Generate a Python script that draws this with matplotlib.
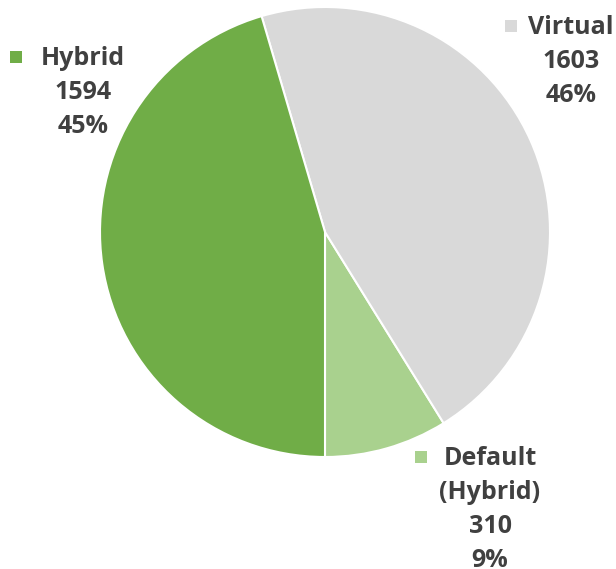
import matplotlib.pyplot as plt

labels = ["Default\n(Hybrid)", "Virtual", "Hybrid"]
values = [310, 1603, 1594]
colors = ["#A9D18E", "#D9D9D9", "#70AD47"]

# label anchor spots (pixel coords, top-left origin) for marker and text centre
marker_pos = [(421, 457), (511, 26), (16, 57)]
text_pos = [(490, 446), (571, 15), (83, 46)]

W, H = 616, 569
fig = plt.figure(figsize=(W / 100, H / 100), dpi=100)
ax = fig.add_axes([0, 0, 1, 1])

ax.pie(values, colors=colors, startangle=270, counterclock=True,
       center=(325, H - 232), radius=225,
       wedgeprops=dict(edgecolor="white", linewidth=1.5))

ax.set_xlim(0, W)
ax.set_ylim(0, H)
ax.set_aspect("equal")
ax.axis("off")

total = sum(values)
for lab, v, c, (mx, my), (tx, ty) in zip(labels, values, colors, marker_pos, text_pos):
    ax.scatter([mx], [H - my], marker="s", s=80, color=c, linewidths=0)
    pct = round(v / total * 100)
    ax.text(tx, H - ty, f"{lab}\n{v}\n{pct}%", ha="center", va="top",
            fontsize=18, fontweight="bold", color="#404040",
            family="Open Sans", linespacing=1.47)

fig.savefig("out.png", dpi=100)
